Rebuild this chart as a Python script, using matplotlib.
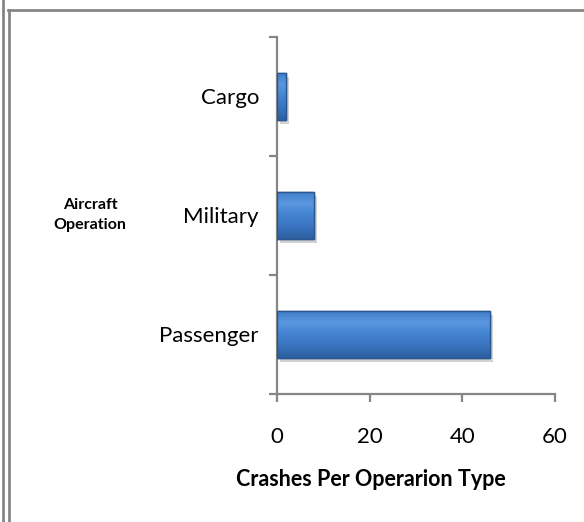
import numpy as np
import matplotlib.pyplot as plt
from matplotlib.lines import Line2D
from matplotlib.colors import LinearSegmentedColormap
import matplotlib.patheffects as pe

categories = ["Passenger", "Military", "Cargo"]
crashes = [46, 8, 2]
x_ticks = [0, 20, 40, 60]

plt.rcParams['font.family'] = ['Lato', 'DejaVu Sans']

fig = plt.figure(figsize=(5.84, 5.22), dpi=100)
ax = fig.add_axes([0.4743, 0.2452, 0.476, 0.684])

ypos = np.arange(len(categories))
bars = ax.barh(ypos, crashes, height=0.4, color='#3b78c6', edgecolor='#2a5690',
               linewidth=1.0, zorder=3)

# gradient fill clipped to each bar, plus a soft shadow
grad = np.linspace(0, 1, 64).reshape(-1, 1)
cmap = LinearSegmentedColormap.from_list(
    "bev", ['#2d5f9f', '#3a74bf', '#4383d0', '#5a97de', '#3f7dca'])
for b in bars:
    x0, y0 = b.get_x(), b.get_y()
    w, h = b.get_width(), b.get_height()
    b.set_path_effects([pe.SimplePatchShadow(offset=(2, -3), shadow_rgbFace='#7f7f7f',
                                             alpha=0.35), pe.Normal()])
    im = ax.imshow(grad, extent=(x0, x0 + w, y0, y0 + h), origin='lower',
                   cmap=cmap, aspect='auto', zorder=4)
    im.set_clip_path(b)
    edge = plt.Rectangle((x0, y0), w, h, fill=False, edgecolor='#2a5690',
                         linewidth=1.0, zorder=5)
    ax.add_patch(edge)

ax.set_xlim(0, 60)
ax.set_ylim(-0.5, 2.5)
ax.set_xticks(x_ticks)
ax.set_xticklabels([str(v) for v in x_ticks], fontsize=16)
ax.set_yticks([-0.5, 0.5, 1.5, 2.5])
ax.set_yticklabels([])
ax.set_yticks(ypos, minor=True)
ax.set_yticklabels(categories, minor=True, fontsize=16)

gray = '#868686'
for s in ['top', 'right']:
    ax.spines[s].set_visible(False)
for s in ['left', 'bottom']:
    ax.spines[s].set_color(gray)
    ax.spines[s].set_linewidth(1.6)
ax.tick_params(axis='both', which='major', length=6, width=1.6, color=gray)
ax.tick_params(axis='y', which='minor', length=0, pad=13)
ax.tick_params(axis='x', which='major', pad=18)

fig.text(371 / 584, 1 - 479 / 522, "Crashes Per Operarion Type", ha='center',
         va='center', fontsize=15.5, fontweight='bold')
fig.text(90 / 584, 1 - 215 / 522, "Aircraft\nOperation", ha='center', va='center',
         fontsize=11.5, fontweight='bold', linespacing=1.6)

# chart area border (cropped)
fig.add_artist(Line2D([2.5 / 584, 2.5 / 584], [0, 1], color=gray, lw=2.0))
fig.add_artist(Line2D([8.5 / 584, 8.5 / 584], [0, 1 - 10 / 522], color=gray, lw=2.0))
fig.add_artist(Line2D([7.5 / 584, 1], [1 - 10 / 522, 1 - 10 / 522], color=gray, lw=2.0))

fig.savefig("out.png", dpi=100)
